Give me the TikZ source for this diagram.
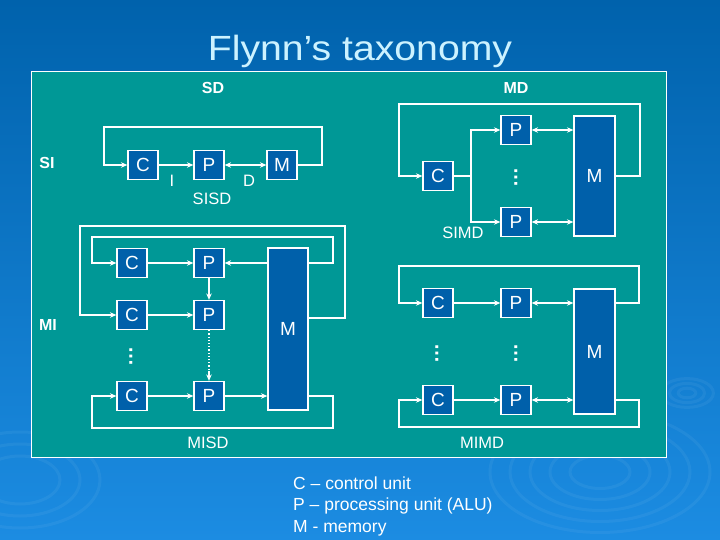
\documentclass[tikz,border=0pt]{standalone}
\usepackage{fontspec}
\setmainfont{Liberation Sans}
\usetikzlibrary{arrows.meta,calc}
\definecolor{bgtop}{RGB}{0,98,172}
\definecolor{bgbot}{RGB}{28,140,226}
\definecolor{panel}{RGB}{0,152,150}
\definecolor{unitblue}{RGB}{0,96,170}
\definecolor{titlecol}{RGB}{204,242,255}
\tikzset{
  unit/.style={draw=white, line width=1.2pt, fill=unitblue, text=white, minimum width=30pt, minimum height=29pt, inner sep=0pt, font=\fontsize{19}{19}\selectfont},
  mem/.style={unit, minimum width=41pt},
  wire/.style={draw=white, line width=1.2pt},
  arr/.style={wire, -{Stealth[length=6.5pt,width=5.5pt]}},
  darr/.style={wire, {Stealth[length=6.5pt,width=5.5pt]}-{Stealth[length=6.5pt,width=5.5pt]}},
  lbl/.style={text=white, font=\fontsize{16.5}{16.5}\selectfont, inner sep=0pt},
  blbl/.style={lbl, font=\fontsize{16}{16}\selectfont\bfseries},
  leg/.style={lbl, font=\fontsize{17.5}{17.5}\selectfont, anchor=base west},
  vdots/.style={text=white, rotate=90, inner sep=0pt, font=\fontsize{20}{20}\selectfont\bfseries},
  ripple/.style={draw=white, opacity=0.05, line width=3pt}
}
\begin{document}
\begin{tikzpicture}[x=1pt,y=-1pt]
\useasboundingbox (0,0) rectangle (720,540);
\shade[top color=bgtop, bottom color=bgbot] (0,0) rectangle (720,540);
% ripples
\foreach \r in {8,16,24} \draw[ripple] (687,393) ellipse ({\r*1.1} and {\r*0.6});
\foreach \r in {30,50,70,90,110} \draw[ripple] (600,472) ellipse ({\r} and {\r*0.55});
\foreach \r in {40,60,80} \draw[ripple] (20,480) ellipse ({\r} and {\r*0.6});
% title
\node[text=titlecol, font=\fontsize{35}{35}\selectfont, xscale=1.12, anchor=base] (title) at (360,61) {Flynn’s taxonomy};
% panel
\node[draw=white, line width=0.8pt, fill=panel, minimum width=635pt, minimum height=386pt, inner sep=0pt] (panel) at (348.5,264) {};
\node[blbl] (SD) at (213,88) {SD};
\node[blbl] (MD) at (516,88) {MD};
\node[blbl] (SI) at (47,163) {SI};
\node[blbl] (MI) at (48,325) {MI};

% ---------- SISD ----------
\node[unit] (sC) at (143,165) {C};
\node[unit] (sP) at (209,165) {P};
\node[unit] (sM) at (282,165) {M};
\coordinate (sTR) at (322,127);
\coordinate (sTL) at (104,127);
\draw[arr] (sC) -- (sP);
\draw[darr] (sP) -- (sM);
\draw[arr] (sM.east) -- (sM.east -| sTR) -- (sTR) -- (sTL) -- (sTL |- sC.west) -- (sC.west);
\node[lbl] (sI) at (172,181) {I};
\node[lbl] (sD) at (249,181) {D};
\node[lbl] (sisd) at (212,199) {SISD};

% ---------- SIMD ----------
\node[unit] (mC) at (438,176) {C};
\node[unit] (mP1) at (516,130) {P};
\node[unit] (mP2) at (516,222) {P};
\node[mem, minimum height=120pt] (mM) at (594.5,176) {M};
\coordinate (mBr) at (471,176);
\coordinate (mTR) at (640,104);
\coordinate (mTL) at (399,104);
\draw[wire] (mC.east) -- (mBr);
\draw[arr] (mBr) |- (mP1.west);
\draw[arr] (mBr) |- (mP2.west);
\draw[darr] (mP1.east) -- (mP1.east -| mM.west);
\draw[darr] (mP2.east) -- (mP2.east -| mM.west);
\draw[arr] (mM.east) -- (mM.east -| mTR) -- (mTR) -- (mTL) -- (mTL |- mC.west) -- (mC.west);
\node[vdots] (mdots) at (516,178) {…};
\node[lbl] (simd) at (463,233) {SIMD};

% ---------- MISD ----------
\node[unit] (iC1) at (132,263) {C};
\node[unit] (iP1) at (209,263) {P};
\node[unit] (iC2) at (132,315) {C};
\node[unit] (iP2) at (209,315) {P};
\node[unit] (iC3) at (132,396) {C};
\node[unit] (iP3) at (209,396) {P};
\node[mem, minimum width=40pt, minimum height=162pt] (iM) at (288,329) {M};
\node[vdots] (idots) at (131,356) {…};
\coordinate (iT1R) at (333,237);
\coordinate (iT1L) at (92,237);
\coordinate (iT2R) at (345,226);
\coordinate (iT2L) at (80,226);
\coordinate (iBR) at (333,428);
\coordinate (iBL) at (92,428);
\coordinate (iMo) at (308,318);
\draw[arr] (iC1) -- (iP1);
\draw[arr] (iC2) -- (iP2);
\draw[arr] (iC3) -- (iP3);
\draw[arr] (iP1.east -| iM.west) -- (iP1.east);
\draw[arr] (iP1) -- (iP2);
\draw[wire, dotted, line width=2pt, shorten >=6pt] (iP2.south) -- (iP3.north);
\draw[arr] ($(iP3.north)+(0,-10)$) coordinate (iDa) -- (iP3.north);
\draw[arr] (iP3.east) -- (iP3.east -| iM.west);
\draw[arr] (iP1.east -| iM.east) -- (iP1.east -| iT1R) -- (iT1R) -- (iT1L) -- (iT1L |- iC1.west) -- (iC1.west);
\draw[arr] (iMo) -- (iMo -| iT2R) -- (iT2R) -- (iT2L) -- (iT2L |- iC2.west) -- (iC2.west);
\draw[arr] (iP3.east -| iM.east) -- (iP3.east -| iBR) -- (iBR) -- (iBL) -- (iBL |- iC3.west) -- (iC3.west);
\node[lbl] (misd) at (208,443) {MISD};

% ---------- MIMD ----------
\node[unit] (dC1) at (438,303) {C};
\node[unit] (dP1) at (516,303) {P};
\node[unit] (dC2) at (438,400) {C};
\node[unit] (dP2) at (516,400) {P};
\node[mem, minimum height=125pt] (dM) at (594.5,351.5) {M};
\node[vdots] (ddots1) at (437,353) {…};
\node[vdots] (ddots2) at (516,353) {…};
\coordinate (dTR) at (639,266);
\coordinate (dTL) at (399,266);
\coordinate (dBR) at (639,427);
\coordinate (dBL) at (399,427);
\draw[arr] (dC1) -- (dP1);
\draw[arr] (dC2) -- (dP2);
\draw[darr] (dP1.east) -- (dP1.east -| dM.west);
\draw[darr] (dP2.east) -- (dP2.east -| dM.west);
\draw[arr] (dP1.east -| dM.east) -- (dP1.east -| dTR) -- (dTR) -- (dTL) -- (dTL |- dC1.west) -- (dC1.west);
\draw[arr] (dP2.east -| dM.east) -- (dP2.east -| dBR) -- (dBR) -- (dBL) -- (dBL |- dC2.west) -- (dC2.west);
\node[lbl] (mimd) at (482,443) {MIMD};

% ---------- legend ----------
\node[leg] (leg1) at (293,489) {C – control unit};
\node[leg] (leg2) at (293,510.5) {P – processing unit (ALU)};
\node[leg] (leg3) at (293,532) {M - memory};
\end{tikzpicture}
\end{document}
